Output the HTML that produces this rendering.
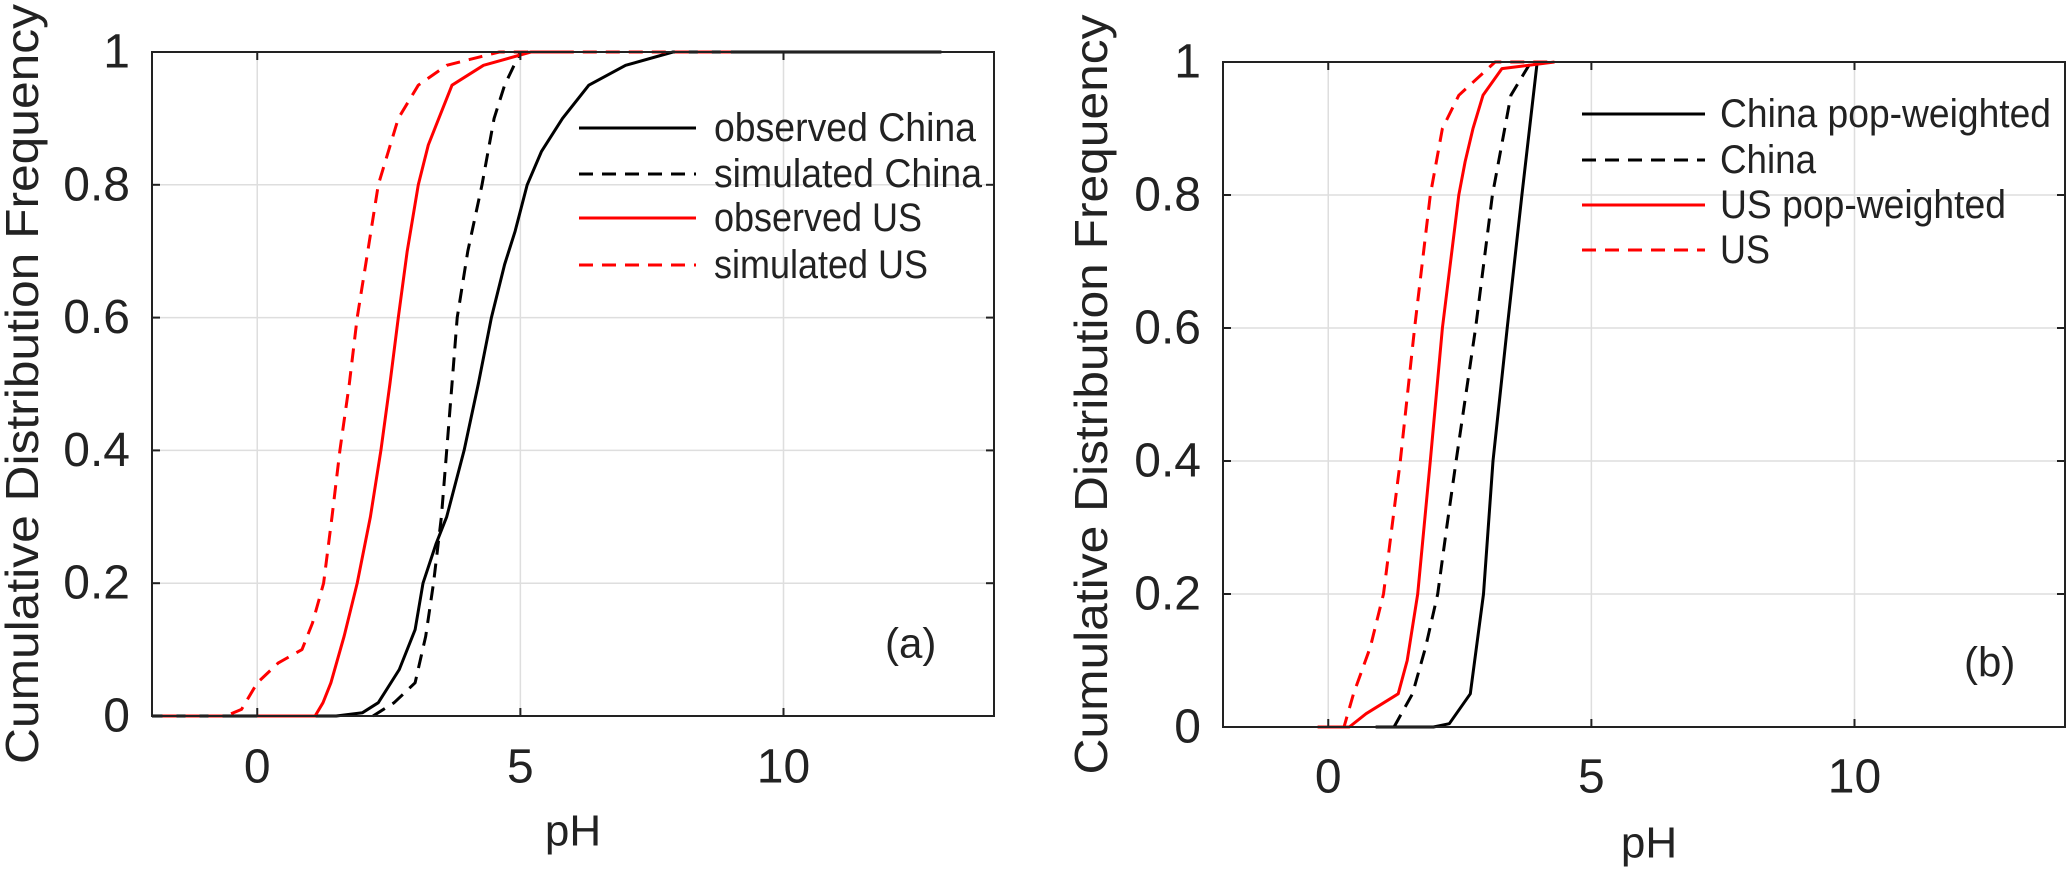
<!DOCTYPE html>
<html><head><meta charset="utf-8"><style>
html,body{margin:0;padding:0;background:#fff;}
svg{display:block;}
text{font-family:"Liberation Sans",sans-serif;fill:#222;}
.leg{font-family:"Liberation Sans Narrow","Liberation Sans",sans-serif;}
</style></head><body>
<svg id="fig" width="2067" height="869" viewBox="0 0 2067 869"></svg>
<script>
const xTicks=[0,5,10];
const yTicks=[0,0.2,0.4,0.6,0.8,1];
const yTickLabels=["0","0.2","0.4","0.6","0.8","1"];
// Panel (a)
const aObsChinaX=[-2,1.5,2.0,2.3,2.7,3.0,3.15,3.4,3.6,3.93,4.2,4.45,4.7,4.9,5.13,5.4,5.8,6.3,7.0,7.9,13];
const aObsChinaY=[0,0,0.005,0.02,0.07,0.13,0.2,0.26,0.3,0.4,0.5,0.6,0.68,0.73,0.8,0.85,0.9,0.95,0.98,1,1];
const aSimChinaX=[2.2,2.6,3.0,3.2,3.35,3.5,3.6,3.7,3.8,4.0,4.27,4.5,4.7,5.0,5.6];
const aSimChinaY=[0,0.02,0.05,0.12,0.2,0.3,0.4,0.5,0.6,0.7,0.8,0.9,0.95,1,1];
const aObsUSX=[0,1.1,1.25,1.4,1.65,1.9,2.15,2.35,2.52,2.68,2.85,3.06,3.25,3.45,3.7,4.3,5.2,6];
const aObsUSY=[0,0,0.02,0.05,0.12,0.2,0.3,0.4,0.5,0.6,0.7,0.8,0.86,0.9,0.95,0.98,1,1];
const aSimUSX=[-1.8,-0.6,-0.3,0,0.4,0.85,1.05,1.26,1.42,1.57,1.75,1.9,2.1,2.3,2.68,3.06,3.6,4.6,9];
const aSimUSY=[0,0,0.01,0.05,0.08,0.1,0.14,0.2,0.3,0.4,0.5,0.6,0.7,0.8,0.9,0.95,0.98,1,1];
// Panel (b)
const bChinaPopX=[0.9,2.0,2.3,2.7,2.95,3.13,3.4,3.68,3.97];
const bChinaPopY=[0,0,0.005,0.05,0.2,0.4,0.6,0.8,1];
const bChinaX=[1.25,1.6,1.85,2.08,2.25,2.43,2.8,3.12,3.47,3.85];
const bChinaY=[0,0.05,0.12,0.2,0.3,0.4,0.6,0.8,0.95,1];
const bUSPopX=[-0.2,0.4,0.72,1.33,1.5,1.7,1.94,2.17,2.48,2.6,2.75,2.94,3.3,4.3];
const bUSPopY=[0,0,0.02,0.05,0.1,0.2,0.4,0.6,0.8,0.85,0.9,0.95,0.99,1];
const bUSX=[-0.2,0.3,0.48,0.8,1.05,1.37,1.64,1.94,2.17,2.48,3.17,4.3];
const bUSY=[0,0,0.05,0.12,0.2,0.4,0.6,0.8,0.9,0.95,1,1];

const NS="http://www.w3.org/2000/svg";
const svg=document.getElementById('fig');
function mk(tag,attrs,parent){const e=document.createElementNS(NS,tag);for(const k in attrs)e.setAttribute(k,attrs[k]);(parent||svg).appendChild(e);return e;}

function panel(p){
  const g=mk('g',{});
  
  
  const sx=v=>p.x0+(v-(-2))/(16)*(p.x1-p.x0);
  const sy=v=>p.y1-v*(p.y1-p.y0);
  // grid
  xTicks.forEach(t=>{const l=mk('line',{x1:sx(t),x2:sx(t),y1:p.y0,y2:p.y1,stroke:'#dedede','stroke-width':1.5},g);
    });
  yTicks.forEach(t=>{const l=mk('line',{x1:p.x0,x2:p.x1,y1:sy(t),y2:sy(t),stroke:'#dedede','stroke-width':1.5},g);
    });
  // series
  p.series.forEach(s=>{
    let d='';s.x.forEach((v,i)=>{d+=(i?'L':'M')+sx(v).toFixed(1)+','+sy(s.y[i]).toFixed(1);});
    const a={d:d,fill:'none',stroke:s.c,'stroke-width':3,'stroke-linejoin':'round'};
    if(s.dash)a['stroke-dasharray']='14,9';
    const pa=mk('path',a,g);
    
    
  });
  // box
  const r=mk('rect',{x:p.x0,y:p.y0,width:p.x1-p.x0,height:p.y1-p.y0,fill:'none',stroke:'#222','stroke-width':2},g);
  
  xTicks.forEach(t=>{
    mk('line',{x1:sx(t),x2:sx(t),y1:p.y1,y2:p.y1-8,stroke:'#222','stroke-width':2},g);
    mk('line',{x1:sx(t),x2:sx(t),y1:p.y0,y2:p.y0+8,stroke:'#222','stroke-width':2},g);
    const tx=mk('text',{x:sx(t),y:p.xtY,'font-size':48,'text-anchor':'middle','dominant-baseline':'central'},g);
    tx.textContent=String(t);
    
  });
  yTicks.forEach((t,i)=>{
    mk('line',{x1:p.x0,x2:p.x0+8,y1:sy(t),y2:sy(t),stroke:'#222','stroke-width':2},g);
    mk('line',{x1:p.x1,x2:p.x1-8,y1:sy(t),y2:sy(t),stroke:'#222','stroke-width':2},g);
    const tx=mk('text',{x:p.x0-22,y:sy(t),'font-size':48,'text-anchor':'end','dominant-baseline':'central'},g);
    tx.textContent=yTickLabels[i];
    
  });
  const xl=mk('text',{x:(p.x0+p.x1)/2-p.xlOff,y:p.xlY,'font-size':44,'text-anchor':'middle','dominant-baseline':'central'},g);
  xl.textContent='pH';
  const yc=(p.y0+p.y1)/2;
  const yl=mk('text',{x:p.ylX,y:yc,'font-size':46,'text-anchor':'middle','dominant-baseline':'central',transform:`rotate(-90 ${p.ylX} ${yc})`,textLength:760,lengthAdjust:'spacingAndGlyphs'},g);
  yl.textContent='Cumulative Distribution Frequency';
  
  // legend
  p.series.forEach((s,i)=>{
    const y=p.legY[i];
    const la={x1:p.legX0,x2:p.legX1,y1:y,y2:y,stroke:s.c,'stroke-width':3};
    if(s.dash)la['stroke-dasharray']='14,9';
    const l=mk('line',la,g);
    
    const t=mk('text',{x:p.legTX,y:y,'font-size':40,'dominant-baseline':'central',class:'leg',textLength:s.tl,lengthAdjust:'spacingAndGlyphs'},g);
    t.textContent=s.label;
    
  });
  const pl=mk('text',{x:p.tagX,y:p.tagY,'font-size':42,'dominant-baseline':'central',class:'leg'},g);
  pl.textContent=p.tag;
}

panel({name:'panel-a',x0:152,x1:994,y0:52,y1:716,xtY:767,xlY:831,xlOff:0,ylX:22,
  legY:[128,174,218,265],legX0:579,legX1:696,legTX:714,tag:'(a)',tagX:885,tagY:643,
  series:[
    {n:'observed-china-line',x:aObsChinaX,y:aObsChinaY,c:'#000',dash:false,label:'observed China',tl:262},
    {n:'simulated-china-line',x:aSimChinaX,y:aSimChinaY,c:'#000',dash:true,label:'simulated China',tl:268},
    {n:'observed-us-line',x:aObsUSX,y:aObsUSY,c:'#ff0000',dash:false,label:'observed US',tl:208},
    {n:'simulated-us-line',x:aSimUSX,y:aSimUSY,c:'#ff0000',dash:true,label:'simulated US',tl:214}
  ]});
panel({name:'panel-b',x0:1223,x1:2065,y0:62,y1:727,xtY:777,xlY:843,xlOff:-5,ylX:1091,
  legY:[114,160,205,250],legX0:1582,legX1:1705,legTX:1720,tag:'(b)',tagX:1964,tagY:662,
  series:[
    {n:'china-pop-weighted-line',x:bChinaPopX,y:bChinaPopY,c:'#000',dash:false,label:'China pop-weighted',tl:331},
    {n:'china-line',x:bChinaX,y:bChinaY,c:'#000',dash:true,label:'China',tl:96},
    {n:'us-pop-weighted-line',x:bUSPopX,y:bUSPopY,c:'#ff0000',dash:false,label:'US pop-weighted',tl:286},
    {n:'us-line',x:bUSX,y:bUSY,c:'#ff0000',dash:true,label:'US',tl:50}
  ]});
</script>
</body></html>
